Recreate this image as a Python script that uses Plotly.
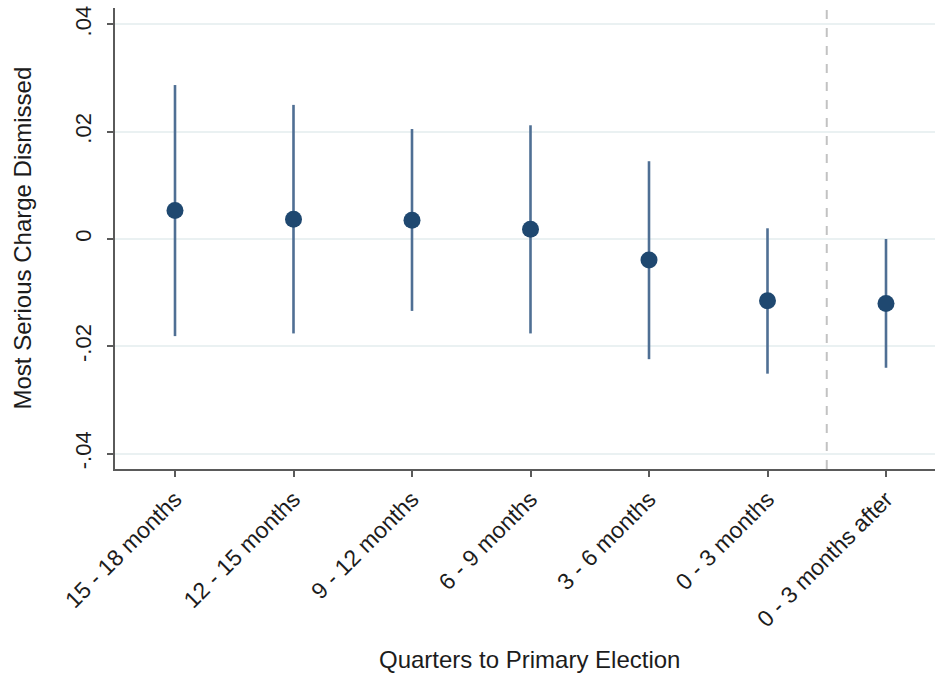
import plotly.graph_objects as go

# Quarter bins relative to the primary election
periods = ["15 - 18 months", "12 - 15 months", "9 - 12 months", "6 - 9 months",
           "3 - 6 months", "0 - 3 months", "0 - 3 months after"]
positions = [1, 2, 3, 4, 5, 6, 7]

# Point estimates and 95% confidence bounds
estimate = [0.0053, 0.0037, 0.0035, 0.0018, -0.0039, -0.0115, -0.0120]
ci_low = [-0.0181, -0.0176, -0.0134, -0.0176, -0.0224, -0.0251, -0.0240]
ci_high = [0.0287, 0.0250, 0.0205, 0.0212, 0.0145, 0.0020, 0.0000]

# Election-date divider between pre- and post-election quarters
election_cut = 6.5

y_ticks = [-0.04, -0.02, 0, 0.02, 0.04]
y_tick_text = ["-.04", "-.02", "0", ".02", ".04"]

err_up = [h - e for h, e in zip(ci_high, estimate)]
err_down = [e - l for e, l in zip(estimate, ci_low)]

FONT = "Liberation Sans, Arial, Helvetica, sans-serif"
TEXT = "#1c1c1c"

fig = go.Figure()
fig.add_trace(go.Scatter(
    x=positions, y=estimate, mode="markers",
    marker=dict(size=17, color="#1f4870"),
    error_y=dict(type="data", symmetric=False, array=err_up, arrayminus=err_down,
                 width=0, thickness=2.6, color="#4f6f94"),
    showlegend=False, hoverinfo="skip",
))

fig.add_shape(type="line", xref="x", yref="paper", x0=election_cut, x1=election_cut,
              y0=0, y1=1, line=dict(color="#c2c2c2", width=2, dash="dash"), layer="below")

fig.update_layout(
    width=935, height=677,
    margin=dict(l=115, r=0, t=8, b=208),
    paper_bgcolor="white", plot_bgcolor="white",
    font=dict(family=FONT, color=TEXT),
    xaxis=dict(
        range=[0.4937, 7.4135], tickmode="array", tickvals=positions, ticktext=periods,
        tickangle=-45, tickfont=dict(size=23, color=TEXT),
        showgrid=False, zeroline=False,
        showline=True, linecolor="#5a5a5a", linewidth=1.5,
        ticks="outside", ticklen=6, tickwidth=1.5, tickcolor="#5a5a5a",
    ),
    yaxis=dict(
        range=[-0.04287, 0.04306], tickmode="array", tickvals=y_ticks, ticktext=y_tick_text,
        tickangle=-90, tickfont=dict(size=22, color=TEXT),
        ticklabelstandoff=7,
        showgrid=True, gridcolor="#eaf1f2", gridwidth=1.5, zeroline=False,
        showline=True, linecolor="#5a5a5a", linewidth=1.5,
        ticks="outside", ticklen=6, tickwidth=1.5, tickcolor="#5a5a5a",
    ),
    annotations=[
        dict(text="Most Serious Charge Dismissed", xref="paper", yref="paper",
             x=-0.1134, y=0.5, xanchor="center", yanchor="middle", textangle=-90,
             showarrow=False, font=dict(size=24, color=TEXT)),
        dict(text="Quarters to Primary Election", xref="paper", yref="paper",
             x=0.506, y=-0.414, xanchor="center", yanchor="middle",
             showarrow=False, font=dict(size=24, color=TEXT)),
    ],
)

fig.write_html("out.html")
